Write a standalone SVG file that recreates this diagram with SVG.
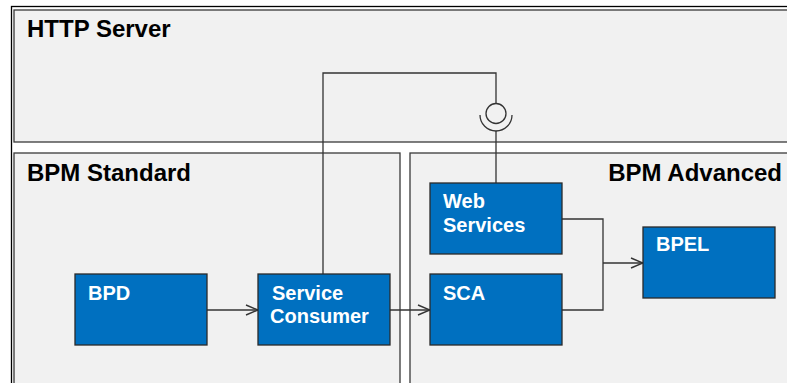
<svg xmlns="http://www.w3.org/2000/svg" width="787" height="383" viewBox="0 0 787 383">
<defs>
<style>
.frame{fill:#f1f1f1;stroke:#3a3a3a;stroke-width:1.3}
.hdr{font-family:"Liberation Sans",Arial,sans-serif;font-weight:bold;font-size:24px;fill:#000}
.box{fill:#0070c0;stroke:#2a2a2a;stroke-width:1.3}
.lbl{font-family:"Liberation Sans",Arial,sans-serif;font-weight:bold;font-size:20px;fill:#fff}
.con{fill:none;stroke:#333;stroke-width:1.3}
</style>
<marker id="arr" markerWidth="14" markerHeight="12" refX="13" refY="6" orient="auto" markerUnits="userSpaceOnUse">
<path d="M1,1 L13,6 L1,11" fill="none" stroke="#333" stroke-width="1.4"/>
</marker>
</defs>
<rect x="0" y="0" width="787" height="383" fill="#fff"/>
<rect x="11.5" y="6.5" width="800" height="400" fill="none" stroke="#000" stroke-width="1.3"/>
<g id="http-server">
<rect class="frame" x="14" y="10" width="790" height="132"/>
<text class="hdr" x="27" y="37">HTTP Server</text>
</g>
<g id="bpm-standard">
<rect class="frame" x="14" y="153" width="386" height="250"/>
<text class="hdr" x="27" y="181">BPM Standard</text>
</g>
<g id="bpm-advanced">
<rect class="frame" x="410" y="153" width="400" height="250"/>
<text class="hdr" x="782" y="181" text-anchor="end">BPM Advanced</text>
</g>
<g id="connectors">
<path class="con" d="M207,310 H258" marker-end="url(#arr)"/>
<path class="con" d="M390,310 H430" marker-end="url(#arr)"/>
<path class="con" d="M562,219 H603 V310 H562"/>
<path class="con" d="M603,263 H643" marker-end="url(#arr)"/>
<path class="con" d="M323,274 V73 H496 V103.5"/>
<circle class="con" cx="496" cy="113.5" r="10"/>
<path class="con" d="M480,115 A16,16 0 0 0 512,115"/>
<path class="con" d="M496,131 V183"/>
</g>
<g id="bpd">
<rect class="box" x="75" y="274" width="132" height="71"/>
<text class="lbl" x="88" y="300">BPD</text>
</g>
<g id="service-consumer">
<rect class="box" x="258" y="274" width="132" height="71"/>
<text class="lbl" x="272" y="300">Service</text>
<text class="lbl" x="270" y="323">Consumer</text>
</g>
<g id="web-services">
<rect class="box" x="430" y="183" width="132" height="71"/>
<text class="lbl" x="443" y="208">Web</text>
<text class="lbl" x="443" y="232">Services</text>
</g>
<g id="sca">
<rect class="box" x="430" y="274" width="132" height="71"/>
<text class="lbl" x="443" y="300">SCA</text>
</g>
<g id="bpel">
<rect class="box" x="643" y="227" width="132" height="71"/>
<text class="lbl" x="656" y="251">BPEL</text>
</g>
</svg>
